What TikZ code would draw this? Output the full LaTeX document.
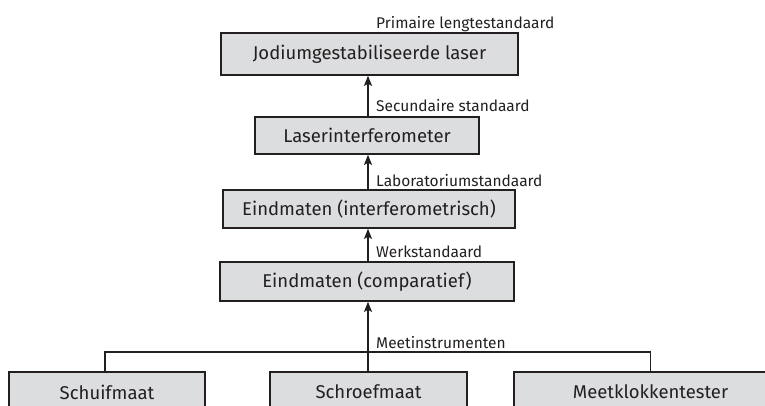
\documentclass[tikz,border=0pt]{standalone}
\usepackage{fontspec}
\setmainfont{Fira Sans}
\usetikzlibrary{arrows.meta}
\definecolor{ink}{HTML}{231F20}
\definecolor{boxfill}{HTML}{DCDDDF}
\begin{document}
\begin{tikzpicture}[x=1pt,y=-1pt,
  stdbox/.style={draw=ink,fill=boxfill,line width=1.7pt,text=ink,font=\fontsize{18.5}{21}\selectfont,inner sep=0pt,anchor=center},
  lbl/.style={text=ink,font=\fontsize{15.5}{18}\selectfont,anchor=base west,inner sep=0pt},
  arr/.style={draw=ink,line width=1.1pt,-{Stealth[length=10pt,width=8pt,inset=2pt]}},
  busline/.style={draw=ink,line width=1.8pt}]
\useasboundingbox (0,0) rectangle (765,406);
\clip (0,0) rectangle (765,406);
\node[stdbox,minimum width=297pt,minimum height=42pt] (b1) at (369.5,54) {Jodiumgestabiliseerde laser};
\node[stdbox,minimum width=224pt,minimum height=37pt] (b2) at (367,135.5) {Laserinterferometer};
\node[stdbox,minimum width=292pt,minimum height=38pt] (b3) at (369,209) {Eindmaten (interferometrisch)};
\node[stdbox,minimum width=294pt,minimum height=39pt] (b4) at (367,281.5) {Eindmaten (comparatief)};
\node[stdbox,minimum width=196pt,minimum height=40pt] (s1) at (107,392) {Schuifmaat};
\node[stdbox,minimum width=197pt,minimum height=40pt] (s2) at (368.5,392) {Schroefmaat};
\node[stdbox,minimum width=273pt,minimum height=40pt] (s3) at (650.5,392) {Meetklokkentester};
\node[lbl] (l1) at (376,29) {Primaire lengtestandaard};
\node[lbl] (l2) at (376,112) {Secundaire standaard};
\node[lbl] (l3) at (376,186) {Laboratoriumstandaard};
\node[lbl] (l4) at (376,257) {Werkstandaard};
\node[lbl] (l5) at (376,348) {Meetinstrumenten};
\coordinate (bus) at (0,352);
\draw[arr] (b2.north -| 368,0) -- (b1.south -| 368,0);
\draw[arr] (b3.north -| 368,0) -- (b2.south -| 368,0);
\draw[arr] (b4.north -| 368,0) -- (b3.south -| 368,0);
\draw[arr] (s2.north -| 368,0) -- (b4.south -| 368,0);
\draw[busline] ([xshift=-2pt]s1.north) |- (bus -| s3.north) -- (s3.north);
\end{tikzpicture}
\end{document}
